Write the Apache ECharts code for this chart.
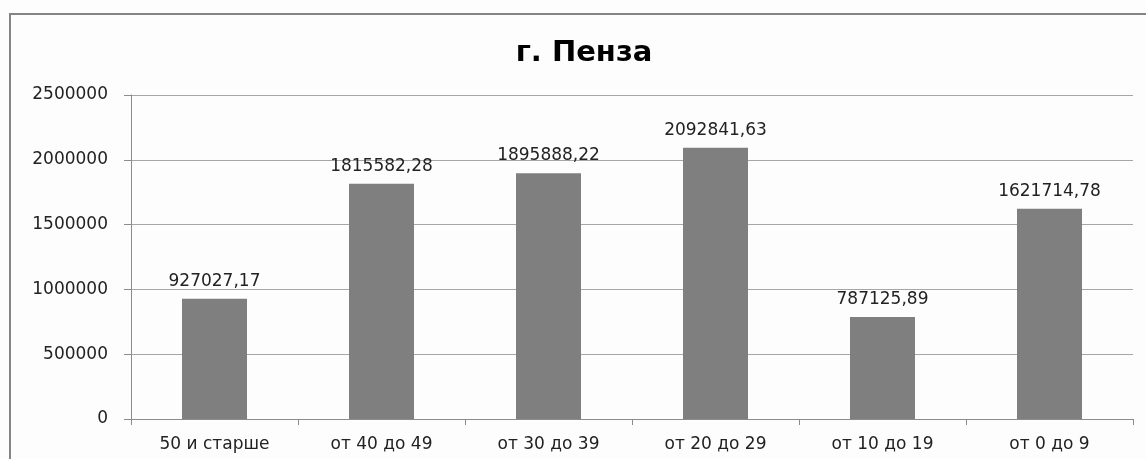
<!DOCTYPE html>
<html>
<head>
<meta charset="utf-8">
<script src="https://cdn.jsdelivr.net/npm/echarts@6/dist/echarts.min.js"></script>
<style>
  html, body { margin: 0; padding: 0; background: #ffffff; }
  #chart { width: 1146px; height: 459px; }
</style>
</head>
<body>
<div id="chart"></div>
<script>
// Age groups and their totals
const categories = ['50 и старше', 'от 40 до 49', 'от 30 до 39', 'от 20 до 29', 'от 10 до 19', 'от 0 до 9'];
const values = [927027.17, 1815582.28, 1895888.22, 2092841.63, 787125.89, 1621714.78];
const yTicks = [0, 500000, 1000000, 1500000, 2000000, 2500000];
const titleText = 'г. Пенза';

const chart = echarts.init(document.getElementById('chart'), null, { renderer: 'canvas' });

const fontFamily = '"DejaVu Sans", "Open Sans", sans-serif';

chart.setOption({
  backgroundColor: '#fdfdfd',
  animation: false,
  graphic: [
    {
      type: 'rect',
      shape: { x: 10, y: 14, width: 1160, height: 470 },
      style: { fill: 'none', stroke: '#858585', lineWidth: 2 },
      silent: true,
      z: -1
    },
    {
      type: 'text',
      x: 584,
      y: 53,
      style: {
        text: titleText,
        font: 'bold 29px "DejaVu Sans", sans-serif',
        fill: '#000000',
        align: 'center',
        verticalAlign: 'middle'
      }
    }
  ],
  grid: { left: 131, right: 13, top: 95, bottom: 40 },
  xAxis: {
    type: 'category',
    data: categories,
    axisLine: { lineStyle: { color: '#8c8c8c', width: 1 } },
    axisTick: { show: true, alignWithLabel: false, length: 6, lineStyle: { color: '#8c8c8c' } },
    axisLabel: { color: '#222222', fontSize: 17, fontFamily: fontFamily, margin: 17 },
    splitLine: { show: false }
  },
  yAxis: {
    type: 'value',
    min: yTicks[0],
    max: yTicks[yTicks.length - 1],
    interval: yTicks[1] - yTicks[0],
    axisLine: { show: true, lineStyle: { color: '#8c8c8c', width: 1 } },
    axisTick: { show: true, length: 7, lineStyle: { color: '#8c8c8c' } },
    axisLabel: {
      color: '#222222',
      fontSize: 17,
      fontFamily: fontFamily,
      margin: 23,
      formatter: v => String(v)
    },
    splitLine: { show: true, lineStyle: { color: '#a6a6a6', width: 1 } }
  },
  series: [{
    type: 'bar',
    data: values,
    barWidth: 65,
    itemStyle: { color: '#7f7f7f' },
    label: {
      show: true,
      position: 'top',
      distance: 9,
      color: '#222222',
      fontSize: 17,
      fontFamily: fontFamily,
      formatter: p => p.value.toFixed(2).replace('.', ',')
    }
  }]
});
</script>
</body>
</html>
